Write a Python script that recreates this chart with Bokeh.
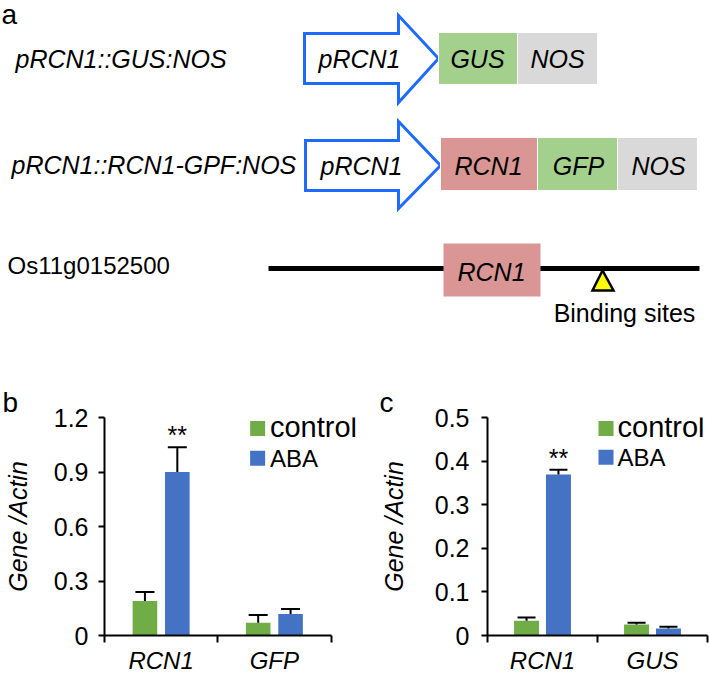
from bokeh.plotting import figure
from bokeh.models import (Range1d, LinearAxis, FixedTicker, ColumnDataSource, Label,
                          CustomJSTickFormatter)
from bokeh.transform import dodge
from bokeh.layouts import column, row
from bokeh.core.properties import value
from bokeh.embed import file_html
from bokeh.resources import INLINE

FONT = "Liberation Sans"
GREEN = "#70AD47"
BLUE = "#4472C4"
ARROW_BLUE = "#1F6BFF"
LIGHT_GREEN = "#A4D08E"
PINK = "#D99694"
GREY = "#D9D9D9"

# ---------------- data ----------------
b_genes = ["RCN1", "GFP"]
b_control = [0.19, 0.07]
b_control_err = [0.049, 0.043]
b_aba = [0.90, 0.118]
b_aba_err = [0.136, 0.028]
b_sig = ["**", ""]
b_ticks = [0, 0.3, 0.6, 0.9, 1.2]

c_genes = ["RCN1", "GUS"]
c_control = [0.034, 0.025]
c_control_err = [0.007, 0.004]
c_aba = [0.369, 0.016]
c_aba_err = [0.011, 0.004]
c_sig = ["**", ""]
c_ticks = [0, 0.1, 0.2, 0.3, 0.4, 0.5]

series_names = ["control", "ABA"]

# construct diagram (panel a)
construct_names = ["pRCN1::GUS:NOS", "pRCN1::RCN1-GPF:NOS"]
row1_parts = ["GUS", "NOS"]
row2_parts = ["RCN1", "GFP", "NOS"]
gene_id = "Os11g0152500"

# ---------------- layout ----------------
W = 709
HA = 340
HB = 336
FRAME_TOP = 77      # px from top of the lower panels to the top of the plot frame
FRAME_BOTTOM = 40   # px below the plot frame


def text_kw(size, style="normal", align="left", baseline="middle"):
    return dict(text_font=value(FONT), text_font_size=value(size), text_font_style=style,
                text_align=align, text_baseline=baseline, text_color="black")


# ---------- panel a ----------
pa = figure(width=W, height=HA, x_range=Range1d(0, W), y_range=Range1d(HA, 0),
            x_axis_type=None, y_axis_type=None, toolbar_location=None,
            output_backend="svg", min_border=0, title=None)
pa.outline_line_color = None

pa.text(x=[1], y=[14], text=["a"], **text_kw("28px"))

# row 1
pa.text(x=[15], y=[58], text=[construct_names[0]], **text_kw("25px", "italic"))
pa.patch(x=[304, 398, 398, 438, 398, 398, 304], y=[33, 33, 15, 58, 102, 83, 83],
         fill_color="white", line_color=ARROW_BLUE, line_width=3, line_join="miter")
pa.text(x=[318], y=[58], text=["pRCN1"], **text_kw("25px", "italic"))
pa.quad(left=[438, 517], right=[517, 597], top=[32, 32], bottom=[84, 84],
        fill_color=[LIGHT_GREEN, GREY], line_color="white", line_width=1)
pa.text(x=[477, 557], y=[58, 58], text=row1_parts, **text_kw("25px", "italic", "center"))

# row 2
pa.text(x=[11], y=[164], text=[construct_names[1]], **text_kw("25px", "italic"))
pa.patch(x=[305, 398, 398, 440, 398, 398, 305], y=[140, 140, 121, 165, 208, 190, 190],
         fill_color="white", line_color=ARROW_BLUE, line_width=3, line_join="miter")
pa.text(x=[320], y=[165], text=["pRCN1"], **text_kw("25px", "italic"))
pa.quad(left=[440, 537, 617], right=[537, 617, 697], top=[137, 137, 137],
        bottom=[190, 190, 190], fill_color=[PINK, LIGHT_GREEN, GREY],
        line_color="white", line_width=1)
pa.text(x=[488, 578, 658], y=[165, 165, 165], text=row2_parts,
        **text_kw("25px", "italic", "center"))

# row 3
pa.text(x=[7], y=[265], text=[gene_id], **text_kw("24px"))
pa.segment(x0=[268], y0=[268], x1=[699], y1=[268], line_width=5, line_color="black")
pa.quad(left=[443], right=[540], top=[243], bottom=[296], fill_color=PINK,
        line_color=None)
pa.text(x=[491], y=[271], text=["RCN1"], **text_kw("25px", "italic", "center"))
pa.patch(x=[602, 592, 613], y=[270, 290, 290], fill_color="#FFFF00",
         line_color="black", line_width=2.5, line_join="miter")
pa.text(x=[624], y=[312], text=["Binding sites"], **text_kw("25px", "normal", "center"))


# ---------- panels b, c ----------
def bar_panel(genes, ctrl, ctrl_err, aba, aba_err, sig, ticks, ymax, width,
              left, px_axis, px_cat, off, bw, tick_standoff, label_standoff,
              letter, letter_x, legend_px, legend_y, cap):
    n = len(genes)
    x_end = (width - left) / px_cat
    frame_h = HB - FRAME_TOP - FRAME_BOTTOM
    p = figure(width=width, height=HB, x_range=Range1d(0, x_end),
               y_range=Range1d(0, ymax), x_axis_type=None, y_axis_type=None,
               toolbar_location=None, output_backend="svg", title=letter,
               min_border_left=left, min_border_right=0,
               min_border_top=FRAME_TOP, min_border_bottom=FRAME_BOTTOM)
    p.outline_line_color = None
    p.title.text_font = FONT
    p.title.text_font_size = "28px"
    p.title.text_font_style = "normal"
    p.title.text_color = "black"
    p.title.align = "left"
    p.title.standoff = 0
    p.title.vertical_align = "bottom"
    p.title.offset = letter_x - left

    def sx(px):
        return (px - px_axis) / px_cat

    def sy(py):  # offset (px) below the frame top in the reference -> data units
        return (1 - (py - 417) / frame_h) * ymax

    yax = LinearAxis(ticker=FixedTicker(ticks=ticks, minor_ticks=[]),
                     formatter=CustomJSTickFormatter(code="return tick.toString()"),
                     axis_line_width=2, axis_line_color="black",
                     major_tick_line_width=2, major_tick_line_color="black",
                     major_tick_out=6, major_tick_in=0, minor_tick_out=0, minor_tick_in=0,
                     major_label_text_font=FONT, major_label_text_font_size="25px",
                     major_label_text_color="black", major_label_standoff=tick_standoff,
                     axis_label="Gene /Actin", axis_label_text_font=FONT,
                     axis_label_text_font_size="25px", axis_label_text_font_style="italic",
                     axis_label_text_color="black", axis_label_standoff=label_standoff)
    p.add_layout(yax, "left")

    # category names at the centres, boundary tick marks as minor ticks
    xax = LinearAxis(ticker=FixedTicker(ticks=[i + 0.5 for i in range(n)],
                                        minor_ticks=list(range(n + 1))),
                     formatter=CustomJSTickFormatter(args=dict(names=genes),
                                                     code="return names[Math.floor(tick)]"),
                     bounds=(0, n),
                     axis_line_width=2, axis_line_color="black",
                     major_tick_line_color=None, major_tick_out=0, major_tick_in=0,
                     minor_tick_line_width=2, minor_tick_line_color="black",
                     minor_tick_out=7, minor_tick_in=0,
                     major_label_text_font=FONT, major_label_text_font_size="24px",
                     major_label_text_font_style="italic",
                     major_label_text_color="black", major_label_standoff=4)
    p.add_layout(xax, "below")

    src = ColumnDataSource(dict(
        pos=[i + 0.5 for i in range(n)], gene=genes, ctrl=ctrl, aba=aba,
        ctrl_hi=[v + e for v, e in zip(ctrl, ctrl_err)],
        aba_hi=[v + e for v, e in zip(aba, aba_err)],
        sig=sig))
    xc = dodge("pos", -off)
    xa = dodge("pos", off)
    p.vbar(x=xc, top="ctrl", bottom=0, width=bw, source=src, fill_color=GREEN,
           line_color=None)
    p.vbar(x=xa, top="aba", bottom=0, width=bw, source=src, fill_color=BLUE,
           line_color=None)
    for xx, lo, hi in [(xc, "ctrl", "ctrl_hi"), (xa, "aba", "aba_hi")]:
        p.segment(x0=xx, y0=lo, x1=xx, y1=hi, source=src, line_width=2,
                  line_color="black")
        p.scatter(x=xx, y=hi, source=src, marker="dash", size=cap, line_width=2,
                  line_color="black")
    p.text(x=xa, y="aba_hi", text="sig", source=src, y_offset=-12,
           **text_kw("25px", "normal", "center"))

    # legend
    lx = sx(legend_px[0])
    p.scatter(x=[lx, lx], y=[sy(legend_y[0]), sy(legend_y[1])], marker="square",
              size=15, fill_color=[GREEN, BLUE], line_color=None)
    p.add_layout(Label(x=sx(legend_px[1]), y=sy(legend_y[0] - 1), text=series_names[0],
                       text_font=FONT, text_font_size="29px", text_color="black",
                       text_baseline="middle"))
    p.add_layout(Label(x=sx(legend_px[1]), y=sy(legend_y[1]), text=series_names[1],
                       text_font=FONT, text_font_size="24px", text_color="black",
                       text_baseline="middle"))
    return p


pb = bar_panel(b_genes, b_control, b_control_err, b_aba, b_aba_err, b_sig, b_ticks, 1.2,
               width=363, left=100, px_axis=100, px_cat=115.0,
               off=0.143, bw=0.217, tick_standoff=10, label_standoff=19,
               letter="b", letter_x=-2, legend_px=(255.5, 268),
               legend_y=(428, 458), cap=19)
pc = bar_panel(c_genes, c_control, c_control_err, c_aba, c_aba_err, c_sig, c_ticks, 0.5,
               width=346, left=124, px_axis=487, px_cat=110.0,
               off=0.145, bw=0.227, tick_standoff=12, label_standoff=24,
               letter="c", letter_x=16, legend_px=(605.5, 617),
               legend_y=(428, 457), cap=18)

layout = column(pa, row(pb, pc))
open("out.html", "w").write(file_html(layout, INLINE))
